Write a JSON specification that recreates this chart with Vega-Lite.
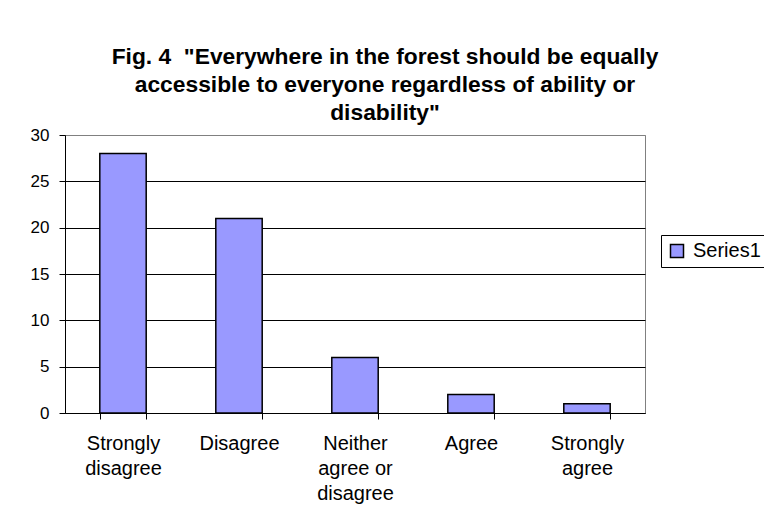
{
  "$schema": "https://vega.github.io/schema/vega-lite/v6.json",
  "autosize": "none",
  "width": 580,
  "height": 278,
  "padding": {"left": 65, "top": 135, "right": 119, "bottom": 109},
  "background": "white",
  "title": {
    "text": ["Fig. 4\u00a0 \"Everywhere in the forest should be equally", "accessible to everyone regardless of ability or", "disability\""],
    "anchor": "middle",
    "frame": "group",
    "dx": 30,
    "font": "Liberation Sans",
    "fontSize": 22.8,
    "fontWeight": "bold",
    "color": "black",
    "lineHeight": 28,
    "offset": 1
  },
  "data": {
    "values": [
      {"response": "Strongly disagree", "count": 28, "series": "Series1"},
      {"response": "Disagree", "count": 21, "series": "Series1"},
      {"response": "Neither agree or disagree", "count": 6, "series": "Series1"},
      {"response": "Agree", "count": 2, "series": "Series1"},
      {"response": "Strongly agree", "count": 1, "series": "Series1"}
    ]
  },
  "mark": {"type": "bar", "stroke": "black", "strokeWidth": 1.5},
  "encoding": {
    "x": {
      "field": "response",
      "type": "nominal",
      "sort": null,
      "title": null,
      "scale": {"paddingInner": 0.6, "paddingOuter": 0.3},
      "axis": {
        "labelAngle": 0,
        "labelExpr": "datum.label === 'Neither agree or disagree' ? ['Neither', 'agree or', 'disagree'] : split(datum.label, ' ')",
        "labelFont": "Liberation Sans",
        "labelFontSize": 20,
        "labelColor": "black",
        "labelLineHeight": 25,
        "labelPadding": 14,
        "tickBand": "extent",
        "tickSize": 6,
        "tickColor": "black",
        "domainColor": "black",
        "grid": false
      }
    },
    "y": {
      "field": "count",
      "type": "quantitative",
      "title": null,
      "scale": {"domain": [0, 30], "nice": false},
      "axis": {
        "values": [0, 5, 10, 15, 20, 25, 30],
        "labelFont": "Liberation Sans",
        "labelFontSize": 17,
        "labelColor": "black",
        "labelPadding": 10,
        "tickSize": 6,
        "tickColor": "black",
        "domainColor": "black",
        "grid": true,
        "gridColor": {"condition": {"test": "datum.value === 30", "value": "#808080"}, "value": "black"},
        "gridOpacity": 1
      }
    },
    "fill": {
      "field": "series",
      "type": "nominal",
      "title": null,
      "scale": {"range": ["#9999FF"]},
      "legend": {
        "orient": "none",
        "legendX": 596,
        "legendY": 100,
        "padding": 6,
        "strokeColor": "black",
        "fillColor": "white",
        "symbolType": "square",
        "symbolSize": 169,
        "symbolStrokeColor": "black",
        "symbolStrokeWidth": 1.5,
        "symbolOpacity": 1,
        "labelFont": "Liberation Sans",
        "labelFontSize": 20,
        "labelColor": "black",
        "labelOffset": 6,
        "labelExpr": "datum.label + '\u00a0'"
      }
    }
  },
  "config": {
    "view": {"stroke": "#808080", "strokeWidth": 1}
  }
}
